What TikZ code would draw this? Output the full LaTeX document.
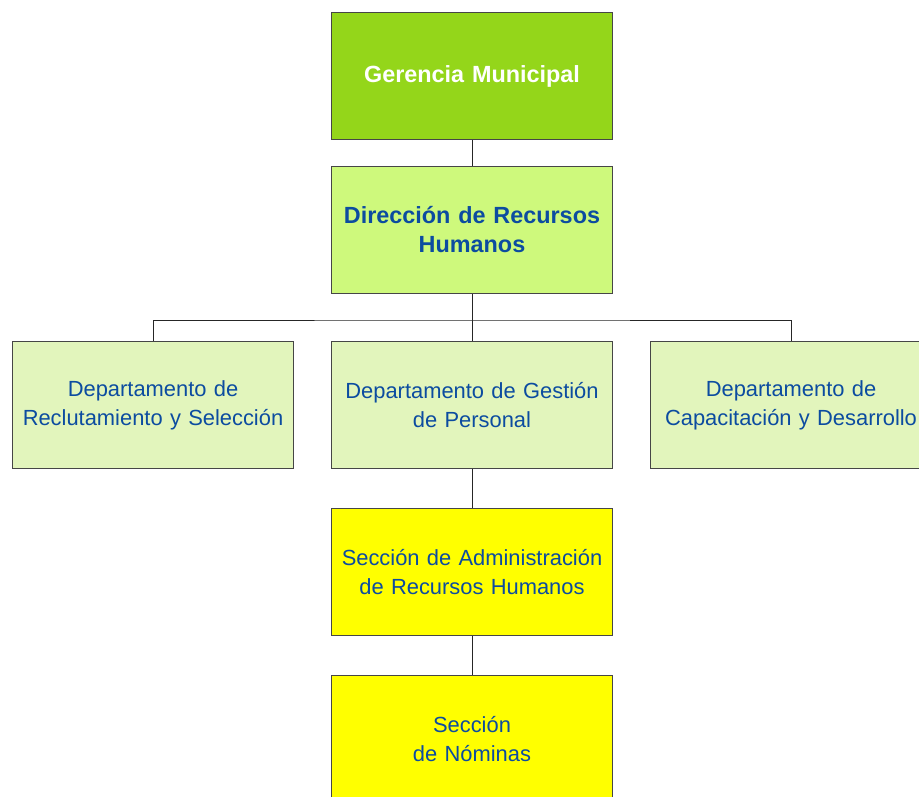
\documentclass[tikz,border=0pt]{standalone}
\usepackage{fontspec}
\setmainfont{Liberation Sans}
\definecolor{verdeosc}{RGB}{148,214,26}
\definecolor{verdemed}{RGB}{206,249,124}
\definecolor{verdecla}{RGB}{226,245,188}
\definecolor{amarillo}{RGB}{255,255,0}
\definecolor{azultxt}{RGB}{12,76,160}
\definecolor{borde}{RGB}{70,70,70}
\begin{document}
\begin{tikzpicture}[x=1pt,y=-1pt,
        caja/.style={draw=borde,line width=0.9pt,minimum width=281pt,minimum height=127pt,inner sep=2pt,
            text width=277pt,align=center,text=azultxt,font=\fontsize{21.9}{29}\selectfont},
        jefe/.style={caja,font=\fontsize{23.4}{29}\selectfont\bfseries},
        linea/.style={draw=black!85,line width=0.9pt}]
        \useasboundingbox (0,0) rectangle (919,797);

        \node[jefe,fill=verdeosc,text=white] (ger) at (472,76) {Gerencia Municipal};
        \node[jefe,fill=verdemed] (dir) at (472,230) {Dirección de Recursos\\Humanos};
        \node[caja,fill=verdecla] (rec) at (153,405) {Departamento de\\Reclutamiento y Selección};
        \node[caja,fill=verdecla] (ges) at (472,405) {Departamento de Gestión\\de Personal};
        \node[caja,fill=verdecla] (cap) at (791,405) {Departamento de\\Capacitación y Desarrollo};
        \node[caja,fill=amarillo] (adm) at (472,572) {Sección de Administración\\de Recursos Humanos};
        \node[caja,fill=amarillo] (nom) at (472,739) {Sección\\de Nóminas};
        \coordinate (bus) at (472,320);

        \draw[linea] (ger) -- (dir);
        \draw[linea] (dir) -- (bus);
        \draw[linea] (rec.north) |- (bus) -| (cap.north);
        \draw[linea] (bus) -- (ges);
        \draw[linea] (ges) -- (adm);
        \draw[linea] (adm) -- (nom);
    \end{tikzpicture}
\end{document}
